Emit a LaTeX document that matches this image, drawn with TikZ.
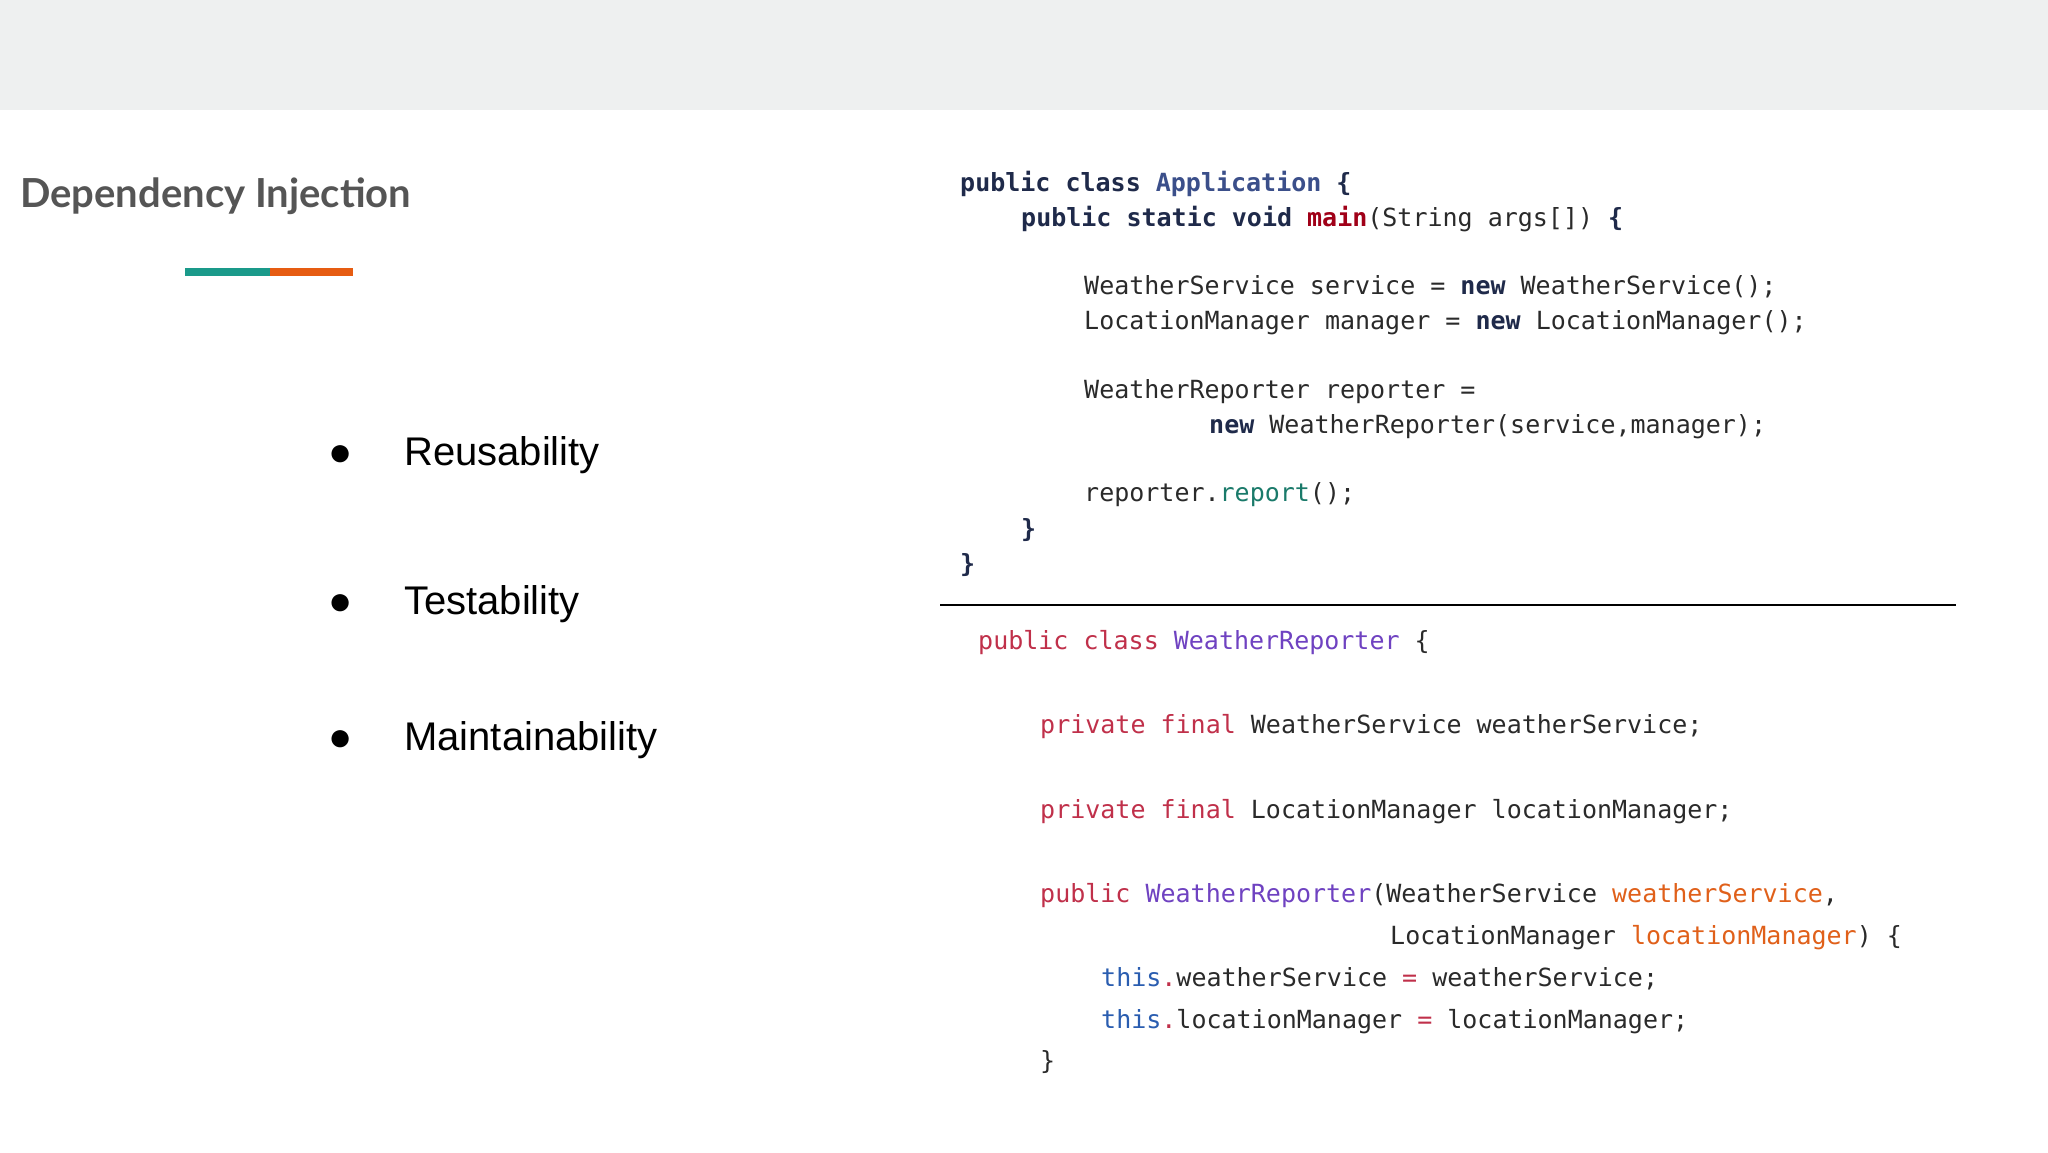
\documentclass[tikz,border=0pt]{standalone}
\usepackage{fontspec}
\setmainfont{Liberation Sans}
\setmonofont{DejaVu Sans Mono}
\newfontfamily\latofont{Lato}
\definecolor{band}{HTML}{EEF0F0}
\definecolor{titlec}{HTML}{555555}
\definecolor{tealc}{HTML}{1A9A8A}
\definecolor{orangec}{HTML}{E65C12}
\definecolor{kw}{HTML}{1F2A4A}
\definecolor{appc}{HTML}{3B4F8A}
\definecolor{mainc}{HTML}{A00018}
\definecolor{repc}{HTML}{1A7A6A}
\definecolor{codec}{HTML}{2A2A2A}
\definecolor{pk}{HTML}{C0304A}
\definecolor{pur}{HTML}{6F42C1}
\definecolor{par}{HTML}{E0601A}
\definecolor{thisc}{HTML}{2A5DB0}
\tikzset{code/.style={anchor=base west,inner sep=0pt,font=\fontsize{25}{30}\selectfont\ttfamily,text=codec},
bul/.style={anchor=base west,inner sep=0pt,font=\fontsize{40}{48}\selectfont,text=black}}
\begin{document}
\begin{tikzpicture}[x=1pt,y=-1pt]
\useasboundingbox (0,0) rectangle (2048,1152);
\fill[white] (0,0) rectangle (2048,1152);
\fill[band] (0,0) rectangle (2048,110);
\node[anchor=west,inner sep=0pt,text=titlec,font=\fontsize{40}{48}\selectfont\latofont\bfseries] (title) at (20,196) {Dependency Injection};
\fill[tealc] (185,268) rectangle (270,276);
\fill[orangec] (270,268) rectangle (353,276);
\foreach \y/\t [count=\i] in {465/Reusability,614/Testability,750/Maintainability}{
  \node[bul] (dot\i) at (328,\y) {●};
  \node[bul] (b\i) at (404,\y) {\t};
}
% block 1
\node[code] (l1) at (960,191) {\textbf{\color{kw}public class} \textbf{\color{appc}Application} \textbf{\color{kw}\{}};
\node[code] (l2) at (1021,226) {\textbf{\color{kw}public static void} \textbf{\color{mainc}main}(String args[]) \textbf{\color{kw}\{}};
\node[code] (l3) at (1084,294) {WeatherService service = \textbf{\color{kw}new} WeatherService();};
\node[code] (l4) at (1084,329) {LocationManager manager = \textbf{\color{kw}new} LocationManager();};
\node[code] (l5) at (1084,398) {WeatherReporter reporter =};
\node[code] (l6) at (1209,433) {\textbf{\color{kw}new} WeatherReporter(service,manager);};
\node[code] (l7) at (1084,501) {reporter.{\color{repc}report}();};
\node[code] (l8) at (1021,537) {\textbf{\color{kw}\}}};
\node[code] (l9) at (960,572) {\textbf{\color{kw}\}}};
\coordinate (sa) at (940,605); \coordinate (sb) at (1956,605);
\draw[line width=2pt,black] (sa) -- (sb);
% block 2
\node[code] (m1) at (978,649) {{\color{pk}public class} {\color{pur}WeatherReporter} \{};
\node[code] (m2) at (1040,733) {{\color{pk}private final} WeatherService weatherService;};
\node[code] (m3) at (1040,818) {{\color{pk}private final} LocationManager locationManager;};
\node[code] (m4) at (1040,902) {{\color{pk}public} {\color{pur}WeatherReporter}(WeatherService {\color{par}weatherService},};
\node[code] (m5) at (1390,944) {LocationManager {\color{par}locationManager}) \{};
\node[code] (m6) at (1101,986) {{\color{thisc}this}{\color{pk}.}weatherService {\color{pk}=} weatherService;};
\node[code] (m7) at (1101,1028) {{\color{thisc}this}{\color{pk}.}locationManager {\color{pk}=} locationManager;};
\node[code] (m8) at (1040,1069) {\}};
\end{tikzpicture}
\end{document}
